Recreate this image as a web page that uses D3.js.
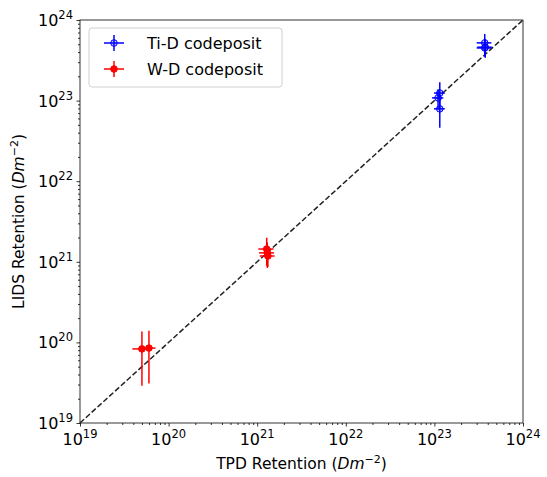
<!DOCTYPE html>
<html>
<head>
<meta charset="utf-8">
<script src="https://cdn.jsdelivr.net/npm/d3@7"></script>
<style>
  body { margin: 0; background: #fff; }
  text { font-family: "DejaVu Sans", sans-serif; fill: #000; }
</style>
</head>
<body>
<div id="chart"></div>
<script>
// Ti-D codeposit
var tiX = [1.10e23, 1.15e23, 1.15e23, 3.70e23, 3.75e23, 3.70e23]
var tiY = [1.08e23, 1.24e23, 7.9e22, 5.2e23, 4.6e23, 4.5e23]
var tiXErr = [1.6e22, 1.6e22, 1.6e22, 7e22, 7e22, 7e22]
var tiYErr = [3e22, 4.5e22, 3.3e22, 1.5e23, 1.2e23, 1.0e23]

// W-D codeposit
var wX = [1.28e21, 1.30e21, 1.32e21, 5.0e19, 6.0e19]
var wY = [1.44e21, 1.29e21, 1.18e21, 8.3e19, 8.5e19]
var wXErr = [2.5e20, 2.5e20, 2.5e20, 1.1e19, 1.1e19]
var wYErr = [5.5e20, 4.5e20, 3.2e20, 5.4e19, 5.4e19]

var decades = [19, 20, 21, 22, 23, 24]

var width = 547, height = 477
var mLeft = 80, mRight = 523, mTop = 20, mBottom = 423

var svg = d3.select("#chart").append("svg")
  .attr("width", width)
  .attr("height", height)

var x = d3.scaleLog().domain([1e19, 1e24]).range([mLeft, mRight])
var y = d3.scaleLog().domain([1e19, 1e24]).range([mBottom, mTop])

var major = decades.map(function(d) { return Math.pow(10, d) })
var minor = []
decades.slice(0, -1).forEach(function(d) {
  for (var k = 2; k < 10; k++) minor.push(k * Math.pow(10, d))
})

// axes: minor ticks
svg.append("g").attr("transform", "translate(0," + mBottom + ")")
  .call(d3.axisBottom(x).tickValues(minor).tickSize(2).tickFormat(""))
svg.append("g").attr("transform", "translate(" + mLeft + ",0)")
  .call(d3.axisLeft(y).tickValues(minor).tickSize(2).tickFormat(""))
// major ticks
svg.append("g").attr("transform", "translate(0," + mBottom + ")")
  .call(d3.axisBottom(x).tickValues(major).tickSize(3.5).tickFormat(""))
svg.append("g").attr("transform", "translate(" + mLeft + ",0)")
  .call(d3.axisLeft(y).tickValues(major).tickSize(3.5).tickFormat(""))
svg.selectAll(".domain").remove()
svg.selectAll(".tick line").attr("stroke", "#000").attr("stroke-width", 0.8)

// tick labels
decades.forEach(function(d) {
  var t = svg.append("text")
    .attr("x", x(Math.pow(10, d)))
    .attr("y", mBottom + 22)
    .attr("text-anchor", "middle")
    .style("font-size", "16px")
  t.append("tspan").text("10")
  t.append("tspan").attr("dy", -7).style("font-size", "11.5px").text(d)

  var s = svg.append("text")
    .attr("x", mLeft - 7)
    .attr("y", y(Math.pow(10, d)) + 6)
    .attr("text-anchor", "end")
    .style("font-size", "16px")
  s.append("tspan").text("10")
  s.append("tspan").attr("dy", -7).style("font-size", "11.5px").text(d)
})

// frame
svg.append("rect")
  .attr("x", mLeft).attr("y", mTop)
  .attr("width", mRight - mLeft).attr("height", mBottom - mTop)
  .attr("fill", "none").attr("stroke", "#000").attr("stroke-width", 0.8)

// diagonal y = x
svg.append("line")
  .attr("x1", x(1e19)).attr("y1", y(1e19))
  .attr("x2", x(1e24)).attr("y2", y(1e24))
  .attr("stroke", "#222").attr("stroke-width", 1.5)
  .attr("stroke-dasharray", "5.5,2.4")

function drawSeries(xs, ys, xe, ye, color, filled) {
  var g = svg.append("g")
  var data = xs.map(function(v, i) { return {x: v, y: ys[i], xe: xe[i], ye: ye[i]} })
  g.selectAll(".ey").data(data).enter().append("line")
    .attr("x1", function(d) { return x(d.x) }).attr("x2", function(d) { return x(d.x) })
    .attr("y1", function(d) { return y(d.y + d.ye) }).attr("y2", function(d) { return y(d.y - d.ye) })
    .attr("stroke", color).attr("stroke-width", 1.5)
  g.selectAll(".ex").data(data).enter().append("line")
    .attr("y1", function(d) { return y(d.y) }).attr("y2", function(d) { return y(d.y) })
    .attr("x1", function(d) { return x(d.x - d.xe) }).attr("x2", function(d) { return x(d.x + d.xe) })
    .attr("stroke", color).attr("stroke-width", 1.5)
  g.selectAll("circle").data(data).enter().append("circle")
    .attr("cx", function(d) { return x(d.x) }).attr("cy", function(d) { return y(d.y) })
    .attr("r", 3.3)
    .attr("fill", filled ? color : "rgba(0,0,255,0.25)")
    .attr("stroke", color).attr("stroke-width", 1)
}
drawSeries(tiX, tiY, tiXErr, tiYErr, "#0000ff", false)
drawSeries(wX, wY, wXErr, wYErr, "#ff0000", true)

// legend
var lg = svg.append("g")
lg.append("rect")
  .attr("x", 89).attr("y", 28).attr("width", 193).attr("height", 59)
  .attr("rx", 3).attr("fill", "rgba(255,255,255,0.8)")
  .attr("stroke", "#d0d0d0").attr("stroke-width", 1)
var items = [
  {label: "Ti-D codeposit", color: "#0000ff", filled: false, y: 43},
  {label: "W-D codeposit", color: "#ff0000", filled: true, y: 69}
]
items.forEach(function(it) {
  lg.append("line").attr("x1", 104).attr("x2", 124).attr("y1", it.y).attr("y2", it.y)
    .attr("stroke", it.color).attr("stroke-width", 1.5)
  lg.append("line").attr("x1", 114).attr("x2", 114).attr("y1", it.y - 8).attr("y2", it.y + 8)
    .attr("stroke", it.color).attr("stroke-width", 1.5)
  lg.append("circle").attr("cx", 114).attr("cy", it.y).attr("r", 3.3)
    .attr("fill", it.filled ? it.color : "rgba(0,0,255,0.25)")
    .attr("stroke", it.color).attr("stroke-width", 1)
  lg.append("text").attr("x", 147).attr("y", it.y + 6)
    .style("font-size", "16px").text(it.label)
})

// axis titles
var xt = svg.append("text")
  .attr("x", (mLeft + mRight) / 2).attr("y", 469)
  .attr("text-anchor", "middle").style("font-size", "15.5px")
xt.append("tspan").text("TPD Retention (")
xt.append("tspan").style("font-style", "italic").text("Dm")
xt.append("tspan").attr("dy", -6).style("font-size", "11px").text("\u22122")
xt.append("tspan").attr("dy", 6).text(")")

var yt = svg.append("text")
  .attr("transform", "translate(24," + (mTop + mBottom) / 2 + ") rotate(-90)")
  .attr("text-anchor", "middle").style("font-size", "15.5px")
yt.append("tspan").text("LIDS Retention (")
yt.append("tspan").style("font-style", "italic").text("Dm")
yt.append("tspan").attr("dy", -6).style("font-size", "11px").text("\u22122")
yt.append("tspan").attr("dy", 6).text(")")
</script>
</body>
</html>
